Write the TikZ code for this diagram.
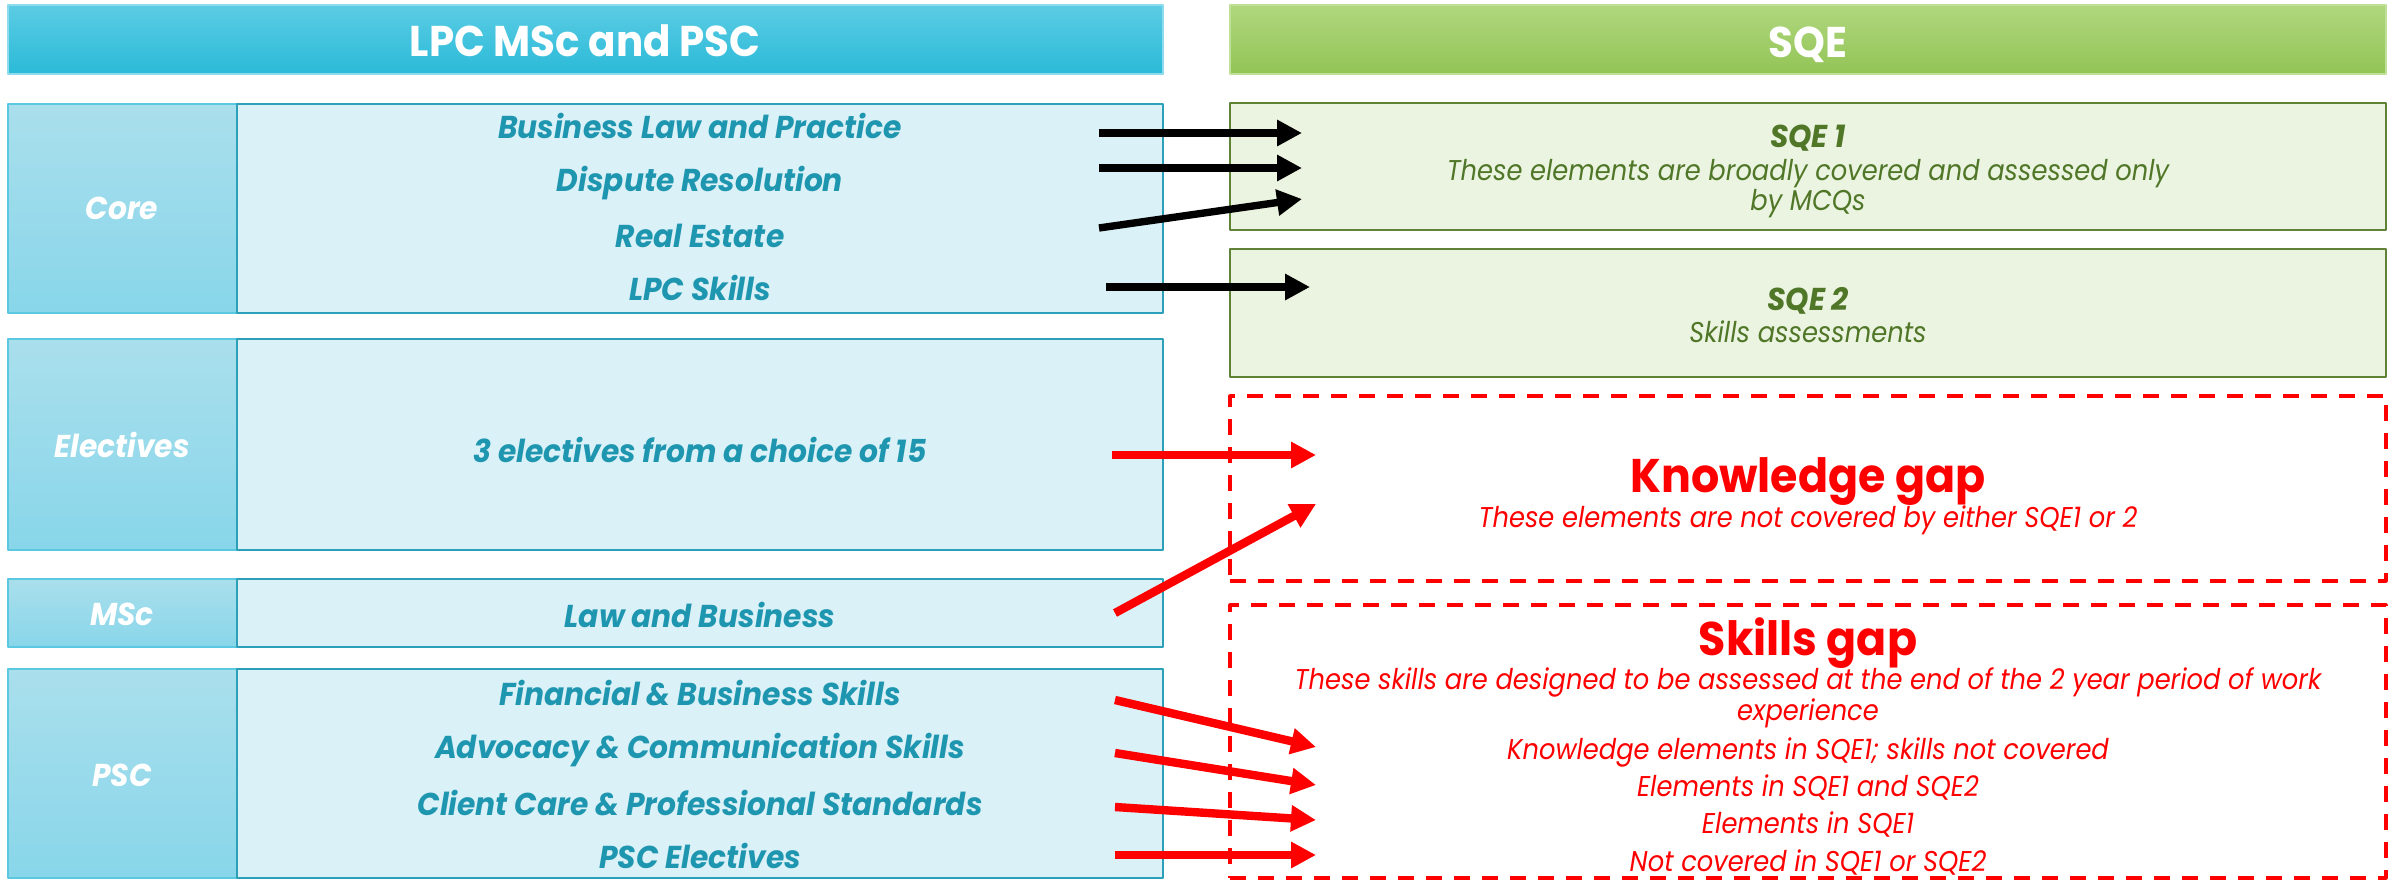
\documentclass[tikz,border=0pt]{standalone}
\usepackage{fontspec}
\setmainfont[FakeStretch=0.94]{Poppins}
\newfontfamily\narrowfont[FakeStretch=0.9]{Poppins}
\usetikzlibrary{arrows.meta,fit}
\definecolor{hdtop}{RGB}{92,204,228}
\definecolor{hdbot}{RGB}{42,186,216}
\definecolor{lbtop}{RGB}{170,223,236}
\definecolor{lbbot}{RGB}{136,214,234}
\definecolor{lbedge}{RGB}{90,200,225}
\definecolor{cfill}{RGB}{218,241,247}
\definecolor{cedge}{RGB}{44,160,184}
\definecolor{tealtx}{RGB}{31,150,176}
\definecolor{grtop}{RGB}{176,215,126}
\definecolor{grbot}{RGB}{146,196,86}
\definecolor{sqfill}{RGB}{235,244,224}
\definecolor{sqedge}{RGB}{96,130,54}
\definecolor{olivetx}{RGB}{80,118,40}
\begin{document}
\begin{tikzpicture}[x=0.5pt,y=-0.5pt,line join=round]
	\tikzset{
		hdbox/.style={inner sep=0pt,outer sep=0pt,top color=hdtop,bottom color=hdbot,draw=hdtop!70,line width=0.6pt},
		grbox/.style={inner sep=0pt,outer sep=0pt,top color=grtop,bottom color=grbot,draw=grtop!80,line width=0.6pt},
		lblbox/.style={inner sep=0pt,outer sep=0pt,top color=lbtop,bottom color=lbbot,draw=lbedge,line width=0.7pt},
		cbox/.style={inner sep=0pt,outer sep=0pt,fill=cfill,draw=cedge,line width=1pt},
		sqbox/.style={inner sep=0pt,outer sep=0pt,fill=sqfill,draw=sqedge,line width=1.4pt},
		gapbox/.style={inner sep=0pt,outer sep=0pt,draw=red,line width=1.6pt,dash pattern=on 8pt off 6pt},
		hdtxt/.style={anchor=base,inner sep=0pt,text=white,font=\bfseries\fontsize{21.5}{24}\selectfont},
		lbltxt/.style={anchor=base,inner sep=0pt,text=white,font=\bfseries\itshape\fontsize{15.8}{18}\selectfont},
		item/.style={anchor=base,inner sep=0pt,text=tealtx,font=\bfseries\itshape\fontsize{15.8}{18}\selectfont},
		sqtt/.style={anchor=base,inner sep=0pt,text=olivetx,font=\bfseries\itshape\fontsize{15.8}{18}\selectfont},
		sqtx/.style={anchor=base,inner sep=0pt,text=olivetx,font=\narrowfont\itshape\fontsize{14.3}{16}\selectfont},
		gaptt/.style={anchor=base,inner sep=0pt,text=red,font=\bfseries\fontsize{23.6}{26}\selectfont},
		gaptx/.style={anchor=base,inner sep=0pt,text=red,font=\narrowfont\itshape\fontsize{14.3}{16}\selectfont},
		blkarrow/.style={line width=3.7pt,-{Triangle[length=12.5pt,width=12.5pt]}},
		redarrow/.style={red,line width=4.2pt,-{Triangle[length=12.5pt,width=12.5pt]}}
	}
	\useasboundingbox (0,0) rectangle (2395,879);
	% headers
	\node[hdbox, fit={(8,5) (1163,74)}] (hdrL) {};
	\node[grbox, fit={(1230,5) (2386,74)}] (hdrR) {};
	\node[hdtxt] (hdrLt) at (585,56) {LPC MSc and PSC};
	\node[hdtxt] (hdrRt) at (1808,57) {SQE};
	% left rows
	\foreach \nm/\ya/\yb/\txt/\yt in {core/104/313/Core/219,elec/339/550/Electives/457,msc/579/647/MSc/625,psc/669/878/PSC/786}{
		\node[lblbox, fit={(8,\ya) (237,\yb)}] (\nm L) {};
		\node[cbox, fit={(237,\ya) (1163,\yb)}] (\nm C) {};
		\node[lbltxt] (\nm T) at (122,\yt) {\txt};
	}
	\foreach \nm/\y/\txt in {blp/138/Business Law and Practice,dr/191/Dispute Resolution,re/247/Real Estate,lpcs/300/LPC Skills,
		elc/462/3 electives from a choice of 15,lab/627/Law and Business,
		fbs/705/{Financial \& Business Skills},acs/758/{Advocacy \& Communication Skills},ccps/815/{Client Care \& Professional Standards},psce/868/PSC Electives}
		\node[item] (\nm) at (700,\y) {\txt};
	% right boxes
	\node[sqbox, fit={(1230,103) (2386,230)}] (sqeA) {};
	\node[sqbox, fit={(1230,249) (2386,377)}] (sqeB) {};
	\node[gapbox, fit={(1230,396) (2386,581)}] (kgap) {};
	\node[gapbox, fit={(1230,605) (2386,878)}] (sgap) {};
	\node[sqtt] (sqeAt) at (1808,147) {SQE 1};
	\node[sqtx] (sqeAa) at (1808,180) {These elements are broadly covered and assessed only};
	\node[sqtx] (sqeAb) at (1808,210) {by MCQs};
	\node[sqtt] (sqeBt) at (1808,310) {SQE 2};
	\node[sqtx] (sqeBa) at (1808,342) {Skills assessments};
	\node[gaptt] (kgapt) at (1808,492) {Knowledge gap};
	\node[gaptx] (kgapa) at (1808,527) {These elements are not covered by either SQE1 or 2};
	\node[gaptt] (sgapt) at (1808,655) {Skills gap};
	\node[gaptx] (sgapa) at (1808,689) {These skills are designed to be assessed at the end of the 2 year period of work};
	\node[gaptx] (sgapb) at (1808,720) {experience};
	\foreach \nm/\y/\txt in {ke/759/Knowledge elements in SQE1; skills not covered,ea/796/Elements in SQE1 and SQE2,eb/833/Elements in SQE1,nc/871/Not covered in SQE1 or SQE2}
		\node[gaptx] (\nm) at (1808,\y) {\txt};
	% arrows
	\foreach \nm/\xa/\ya/\xb/\yb in {a/1099/133/1302/133,b/1099/168/1302/168,c/1099/228/1302/199,d/1106/287/1310/287}{
		\coordinate (\nm s) at (\xa,\ya);
		\coordinate (\nm e) at (\xb,\yb);
		\draw[blkarrow] (\nm s) -- (\nm e);
	}
	\foreach \nm/\xa/\ya/\xb/\yb in {f/1112/455/1316/455,g/1115/613/1316/504,h/1115/700/1316/747,i/1115/753/1316/785,j/1115/807/1316/820,k/1115/855/1316/855}{
		\coordinate (\nm s) at (\xa,\ya);
		\coordinate (\nm e) at (\xb,\yb);
		\draw[redarrow] (\nm s) -- (\nm e);
	}
\end{tikzpicture}
\end{document}
